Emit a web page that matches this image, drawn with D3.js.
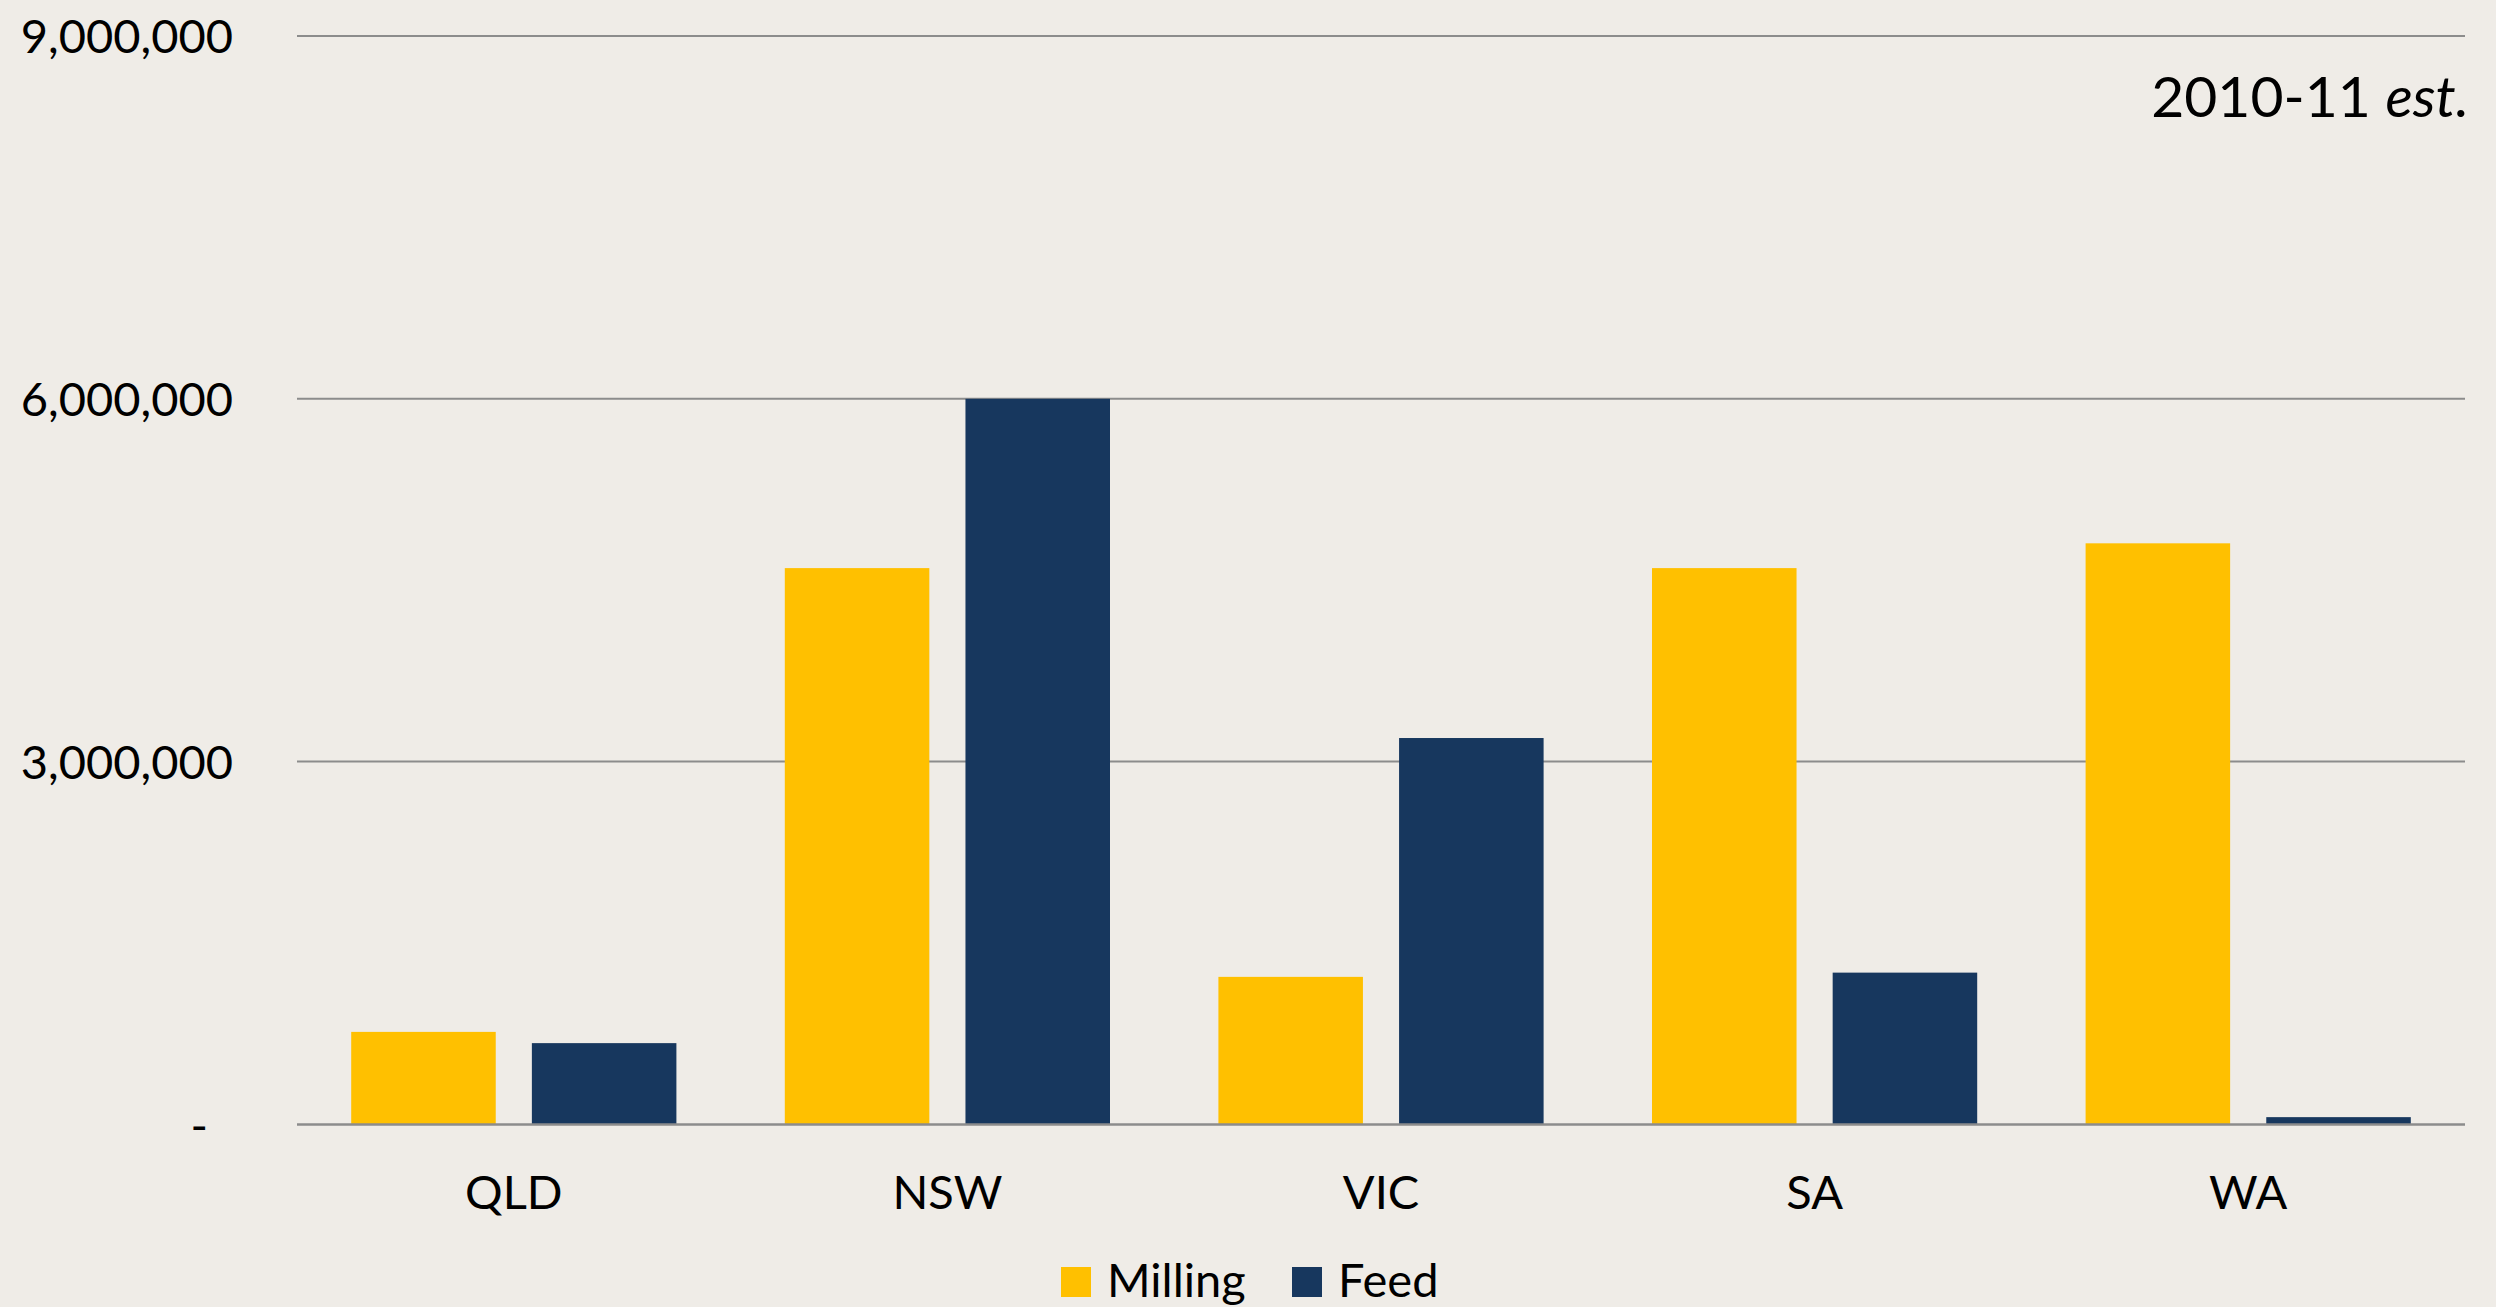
<!DOCTYPE html>
<html>

<head>
    <title>Milling and feed</title>
    <script src="https://cdn.jsdelivr.net/npm/d3@7"></script>
    <style>
        body { margin: 0; background: #EFECE7; }
        text { font-family: Lato, 'Open Sans', sans-serif; fill: #000; }
    </style>
</head>

<body>
    <svg width="2496" height="1307" id="mainsvg"></svg>
    <script>
        // data
        const states = ['QLD', 'NSW', 'VIC', 'SA', 'WA'];
        const series = ['Milling', 'Feed'];
        const milling = [765000, 4600000, 1220000, 4600000, 4805000];
        const feed = [672000, 6000000, 3195000, 1255000, 60000];
        const yTicks = [0, 3000000, 6000000, 9000000];
        const note = '2010-11';

        const svg = d3.select('svg');
        const width = +svg.attr('width');
        const height = +svg.attr('height');
        const colors = { Milling: '#FFC000', Feed: '#17375E' };
        const plotLeft = 297, plotRight = 2465, plotTop = 36, plotBottom = 1124.4;

        svg.append('rect').attr('width', width).attr('height', height).attr('fill', '#EFECE7');

        const x0 = d3.scaleBand().domain(states).range([plotLeft, plotRight]).padding(0);
        const x1 = d3.scaleBand().domain(series).range([0, x0.bandwidth()])
            .paddingInner(0.2).paddingOuter(0.3);
        const y = d3.scaleLinear().domain([0, 9000000]).range([plotBottom, plotTop]);

        const rows = states.map((s, i) => ({ state: s, Milling: milling[i], Feed: feed[i] }));

        // gridlines
        svg.append('g').selectAll('line').data(yTicks.filter(d => d > 0)).join('line')
            .attr('x1', plotLeft).attr('x2', plotRight)
            .attr('y1', d => y(d)).attr('y2', d => y(d))
            .attr('stroke', '#8C8C8C').attr('stroke-width', 2);

        // y axis labels
        const fmt = d3.format(',');
        const yAxis = svg.append('g').attr('transform', `translate(${plotLeft},0)`)
            .call(d3.axisLeft(y).tickValues(yTicks).tickSize(0).tickPadding(64)
                .tickFormat(d => d === 0 ? '-' : fmt(d)));
        yAxis.select('.domain').remove();
        yAxis.selectAll('text').attr('font-size', 47).attr('font-family', 'Lato').attr('dy', '0.36em')
            .filter(d => d === 0).attr('x', -89);

        // bars
        svg.append('g').selectAll('g').data(rows).join('g')
            .attr('transform', d => `translate(${x0(d.state)},0)`)
            .selectAll('rect').data(d => series.map(k => ({ key: k, value: d[k] }))).join('rect')
            .attr('x', d => x1(d.key)).attr('width', x1.bandwidth())
            .attr('y', d => y(d.value)).attr('height', d => y(0) - y(d.value))
            .attr('fill', d => colors[d.key]);

        // zero line
        svg.append('line').attr('x1', plotLeft).attr('x2', plotRight)
            .attr('y1', y(0)).attr('y2', y(0))
            .attr('stroke', '#8C8C8C').attr('stroke-width', 2.5);

        // x axis labels
        const xAxis = svg.append('g').attr('transform', `translate(0,${plotBottom})`)
            .call(d3.axisBottom(x0).tickSize(0));
        xAxis.select('.domain').remove();
        xAxis.selectAll('text').attr('font-size', 47).attr('font-family', 'Lato')
            .attr('dy', null).attr('y', 85);

        // note top right
        const t = svg.append('text').attr('x', 2469).attr('y', 117)
            .attr('text-anchor', 'end').attr('font-size', 57);
        t.append('tspan').text(note + ' ');
        t.append('tspan').attr('font-style', 'italic').text('est.');

        // legend
        const legendX = [1061, 1292];
        const lg = svg.append('g').selectAll('g').data(series).join('g')
            .attr('transform', (d, i) => `translate(${legendX[i]},1267)`);
        lg.append('rect').attr('width', 30).attr('height', 30).attr('fill', d => colors[d]);
        lg.append('text').attr('x', 46).attr('y', 30).attr('font-size', 47).text(d => d);
    </script>
</body>

</html>
